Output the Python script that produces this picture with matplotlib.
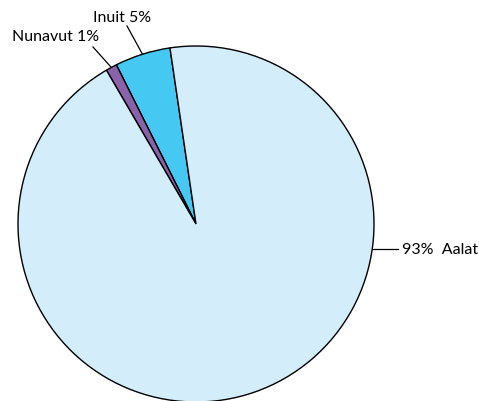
import matplotlib
matplotlib.use("Agg")
import matplotlib.pyplot as plt
import numpy as np

# slice data (drawn counterclockwise from the start angle)
names = ["Inuit", "Nunavut", "Aalat"]
shares = [5, 1, 93]
colors = ["#45c8f2", "#8a62a8", "#d3eefa"]

plt.rcParams['font.family'] = ['Lato', 'DejaVu Sans']

W, H = 479, 402
cx, cy, R = 196, 225, 178  # pie centre / radius in pixels


def px(x, y):
    # pixel position -> data coords (radius 1 pie)
    return ((x - cx) / R, (cy - y) / R)


fig = plt.figure(figsize=(W / 100, H / 100), dpi=100)
ax = fig.add_axes([0, 0, 1, 1])
wedges, _ = ax.pie(shares, colors=colors, startangle=98.4, counterclock=True,
                   wedgeprops=dict(edgecolor="black", linewidth=1.0))
ax.set_xlim(px(0, 0)[0], px(W, 0)[0])
ax.set_ylim(px(0, H)[1], px(0, 0)[1])
ax.set_aspect("auto")
ax.axis("off")

lw = 0.9
fs = 11.5
# Inuit label
th = np.deg2rad((wedges[0].theta1 + wedges[0].theta2) / 2)
ax.plot([np.cos(th), px(127, 27)[0]], [np.sin(th), px(127, 27)[1]], color="black", lw=lw)
ax.text(*px(122, 18), f"{names[0]} {shares[0]}%", ha="center", va="center", fontsize=fs)

# Nunavut label
th = np.deg2rad((wedges[1].theta1 + wedges[1].theta2) / 2)
ax.plot([np.cos(th), px(93, 48)[0]], [np.sin(th), px(93, 48)[1]], color="black", lw=lw)
ax.text(*px(56, 37), f"{names[1]} {shares[1]}%", ha="center", va="center", fontsize=fs)

# Aalat label
y0 = px(0, 250)[1]
ax.plot([np.sqrt(1 - y0 ** 2), px(398, 0)[0]], [y0, y0], color="black", lw=lw)
ax.text(px(402, 0)[0], y0, f"{shares[2]}%  {names[2]}", ha="left", va="center", fontsize=fs)

fig.savefig("out.png", dpi=100)
